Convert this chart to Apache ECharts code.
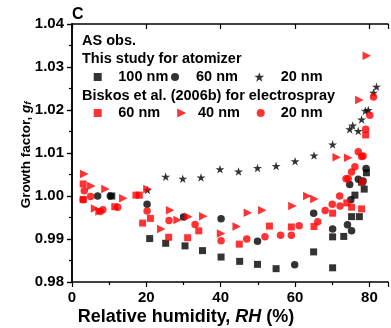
<!DOCTYPE html>
<html>
<head>
<meta charset="utf-8">
<script src="https://cdn.jsdelivr.net/npm/echarts@6/dist/echarts.min.js"></script>
<style>html,body{margin:0;padding:0;background:#fff}#c{width:391px;height:328px}</style>
</head>
<body>
<div id="c"></div>
<script>
// ---- data: [RH (%), growth factor] ----
const atom100 = [[10.7,1.0000],[20.9,0.9901],[25.2,0.9890],[30.4,0.9884],[35.1,0.9873],[40.1,0.9858],[45.1,0.9848],[49.9,0.9841],[54.9,0.9831],[65.0,0.9870],[70.1,0.9833],[70.1,0.9905],[73.1,0.9906],[75.2,0.9952],[77.3,0.9952],[76.1,1.0002],[78.6,1.0016],[77.9,1.0032],[79.2,1.0054]];
const atom60 = [[6.9,1.0000],[10.3,1.0000],[20.2,0.9981],[30.0,0.9951],[40.1,0.9947],[49.9,0.9895],[59.9,0.9840],[65.0,0.9960],[70.1,0.9923],[74.1,0.9933],[75.2,0.9919],[75.0,0.9991],[74.7,1.0027],[77.0,1.0039],[78.3,1.0035],[79.1,1.0064]];
const atom20 = [[20.3,1.0014],[25.2,1.0045],[29.8,1.0040],[34.7,1.0043],[39.8,1.0062],[44.8,1.0057],[49.9,1.0065],[54.9,1.0070],[60.0,1.0081],[65.1,1.0094],[70.1,1.0120],[74.7,1.0155],[75.5,1.0164],[77.0,1.0151],[77.9,1.0178],[78.9,1.0198],[79.7,1.0200],[81.1,1.0240],[81.9,1.0254]];
const es60 = [[3.0,1.0028],[3.0,0.9992],[11.5,0.9975],[17.2,1.0002],[18.1,1.0002],[19.0,0.9937],[21.1,0.9948],[26.0,0.9904],[31.1,0.9903],[34.1,0.9919],[45.0,0.9888],[53.1,0.9930],[59.0,0.9928],[65.1,0.9929],[70.1,0.9960],[73.9,0.9984],[75.2,0.9974],[77.9,0.9970],[78.1,1.0033],[79.0,1.0142]];
const es40 = [[3.3,1.0051],[5.2,1.0023],[9.0,1.0016],[6.2,0.9971],[7.4,0.9964],[13.8,0.9995],[20.3,1.0016],[24.0,0.9923],[26.4,0.9967],[28.4,0.9944],[31.3,0.9952],[35.3,0.9953],[40.1,0.9913],[44.3,0.9929],[47.3,0.9961],[51.2,0.9967],[59.3,0.9977],[63.3,1.0000],[65.2,0.9993],[71.2,1.0090],[74.3,1.0089],[77.3,1.0223],[79.3,1.0326]];
const es20 = [[3.3,1.0012],[3.0,0.9991],[5.0,0.9999],[7.6,0.9964],[8.3,0.9968],[12.3,0.9974],[20.2,0.9965],[26.1,0.9943],[33.1,0.9934],[40.1,0.9896],[47.0,0.9900],[51.9,0.9905],[56.1,0.9909],[59.0,0.9909],[61.1,0.9931],[66.1,0.9940],[68.1,0.9966],[70.0,0.9981],[72.1,0.9977],[72.0,1.0000],[73.7,1.0040],[74.3,1.0040],[75.2,1.0056],[76.1,1.0068],[77.0,1.0103],[77.9,1.0092],[78.3,1.0093],[79.0,1.0155],[80.1,1.0188],[81.1,1.0230]];
const xTicks = [0, 20, 40, 60, 80];
const yTicks = ['0.98','0.99','1.00','1.01','1.02','1.03','1.04'];

const FONT = 'Liberation Sans, Arial, sans-serif';
const STAR = 'path://M50 0L61.2 34.5L97.6 34.5L68.2 55.9L79.4 90.5L50 69.1L20.6 90.5L31.8 55.9L2.4 34.5L38.8 34.5Z';
const TRI_RIGHT = 'path://M0 0L10 5L0 10Z';
const RED = '#ff0000';

const chart = echarts.init(document.getElementById('c'), null, {renderer: 'canvas'});

function sc(name, data, symbol, color, size, rotate) {
  return {type: 'scatter', name, data, symbol, symbolSize: size, symbolRotate: rotate || 0,
    symbolKeepAspect: true, itemStyle: {color}, xAxisIndex: 0, yAxisIndex: 0, z: 3};
}
// legend icon only (label drawn as text next to it)
function lg(name, cx, cy, size, icon) {
  size = size || 8;
  const item = icon ? {name, icon} : {name};
  return {data: [item], left: cx - size / 2, top: cy - size / 2, itemWidth: size, itemHeight: size, padding: 0,
    selectedMode: false, formatter: () => '', textStyle: {fontSize: 1}};
}
function lgText(text, x, cy) {
  return {type: 'text', left: x, top: cy - 8, style: {text, font: 'bold 14.5px ' + FONT, fill: '#000'}};
}
const labFont = {fontFamily: FONT, fontWeight: 'bold', fontSize: 15, color: '#000'};
const axLine = {show: true, lineStyle: {color: '#000', width: 1.5}};

chart.setOption({
  animation: false,
  backgroundColor: '#fff',
  grid: {left: 72, right: 1, top: 24, bottom: 46},
  xAxis: [
    {type: 'value', min: 0, max: 85, interval: 20, position: 'bottom',
     axisLine: axLine, axisTick: {show: true, length: 5, lineStyle: {color: '#000', width: 1.2}},
     minorTick: {show: true, splitNumber: 2, length: 3, lineStyle: {color: '#000', width: 1.2}},
     splitLine: {show: false},
     axisLabel: Object.assign({margin: 8, formatter: v => xTicks.includes(v) ? String(v) : ''}, labFont)},
    {type: 'value', min: 0, max: 85, interval: 20, position: 'top',
     axisLine: axLine, axisTick: {show: true, inside: true, length: 5, lineStyle: {color: '#000', width: 1.2}},
     axisLabel: {show: false}, splitLine: {show: false}}
  ],
  yAxis: [
    {type: 'value', min: 0.98, max: 1.04, interval: 0.01, position: 'left',
     axisLine: axLine, axisTick: {show: true, length: 5, lineStyle: {color: '#000', width: 1.2}},
     minorTick: {show: true, splitNumber: 2, length: 3, lineStyle: {color: '#000', width: 1.2}},
     splitLine: {show: false},
     axisLabel: Object.assign({margin: 8, formatter: v => yTicks[Math.round((v - 0.98) * 100)] || ''}, labFont)},
    {type: 'value', min: 0.98, max: 1.04, interval: 0.01, position: 'right',
     axisLine: axLine, axisTick: {show: true, inside: true, length: 5, lineStyle: {color: '#000', width: 1.2}},
     axisLabel: {show: false}, splitLine: {show: false}}
  ],
  legend: [
    lg('Atomizer 100 nm', 97.7, 77),
    lg('Atomizer 60 nm', 175, 77),
    lg('Atomizer 20 nm', 259.3, 77, 10),
    lg('Electrospray 60 nm', 97.7, 113),
    lg('Electrospray 40 nm', 181.7, 113, 9, TRI_RIGHT),
    lg('Electrospray 20 nm', 260.7, 113)
  ],
  graphic: [
    {type: 'text', left: 72, top: 7, style: {text: 'C', font: 'bold 16px ' + FONT, fill: '#000'}},
    {type: 'text', left: 82, top: 33, style: {text: 'AS obs.', font: 'bold 14.5px ' + FONT, fill: '#000'}},
    {type: 'text', left: 82, top: 51, style: {text: 'This study for atomizer', font: 'bold 14.5px ' + FONT, fill: '#000'}},
    {type: 'text', left: 82, top: 88, style: {text: 'Biskos et al. (2006b) for electrospray', font: 'bold 14.5px ' + FONT, fill: '#000'}},
    lgText('100 nm', 118.3, 77), lgText('60 nm', 196, 77), lgText('20 nm', 280.7, 77),
    lgText('60 nm', 118.3, 113), lgText('40 nm', 198, 113), lgText('20 nm', 280.7, 113),
    {type: 'text', x: 186, y: 317, style: {text: 'Relative humidity, {it|RH} (%)', align: 'center', verticalAlign: 'middle',
      fontFamily: FONT, fontWeight: 'bold', fontSize: 18, fill: '#000',
      rich: {it: {fontFamily: FONT, fontWeight: 'bold', fontStyle: 'italic', fontSize: 18}}}},
    {type: 'text', x: 26, y: 155, rotation: Math.PI / 2, style: {text: 'Growth factor, {it|g}{sub|f}', align: 'center', verticalAlign: 'middle',
      fontFamily: FONT, fontWeight: 'bold', fontSize: 13.5, fill: '#000',
      rich: {it: {fontFamily: FONT, fontWeight: 'bold', fontStyle: 'italic', fontSize: 13.5},
             sub: {fontFamily: FONT, fontWeight: 'bold', fontStyle: 'italic', fontSize: 9.5, verticalAlign: 'bottom', padding: [5, 0, 0, 0]}}}}
  ],
  series: [
    sc('Atomizer 100 nm', atom100, 'rect', '#000', 7),
    sc('Atomizer 60 nm', atom60, 'circle', '#000', 7.5),
    sc('Atomizer 20 nm', atom20, STAR, '#000', 9),
    sc('Electrospray 60 nm', es60, 'rect', RED, 7),
    sc('Electrospray 40 nm', es40, 'triangle', RED, 8.5, -90),
    sc('Electrospray 20 nm', es20, 'circle', RED, 7.5)
  ]
});
</script>
</body>
</html>
